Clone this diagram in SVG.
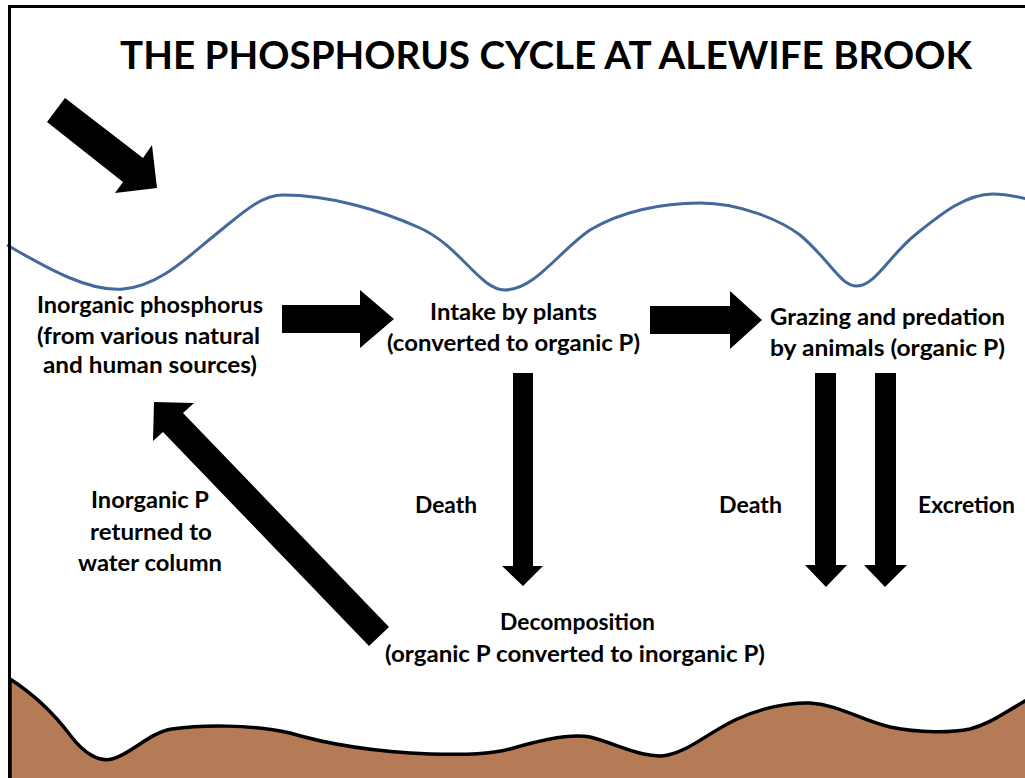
<svg xmlns="http://www.w3.org/2000/svg" width="1025" height="778" viewBox="0 0 1025 778">
  <style>
    .t { font-family: Lato, "Open Sans", "Liberation Sans", sans-serif; font-weight: bold; font-size: 22px; fill: #000; }
    .title { font-family: Lato, "Open Sans", "Liberation Sans", sans-serif; font-weight: bold; font-size: 39px; fill: #000; }
    .arrow { fill: #000; stroke: none; }
    .water { fill: none; stroke: #44699b; stroke-width: 3; }
    .ground { fill: #b57a56; stroke: #000; stroke-width: 3.5; stroke-linejoin: round; }
    .frame { fill: none; stroke: #000; stroke-width: 3; }
  </style>
  <rect x="0" y="0" width="1025" height="778" fill="#fff"/>

  <!-- water surface -->
  <path class="water" d="M7,245 C 50,270 90,292 123,289 C 160,286 190,255 215,235 C 240,215 260,195 283,195 C 330,195 380,210 420,228 C 460,246 480,290 505,290 C 535,290 560,250 590,230 C 620,212 660,203 700,203 C 740,203 780,220 800,235 C 830,260 840,286 857,286 C 875,286 890,255 915,235 C 940,215 965,194 993,194 C 1005,194 1015,196 1027,199"/>

  <!-- sediment -->
  <path class="ground" d="M10,679 C 35,695 55,715 70,735 C 85,755 100,762 112,759 C 130,755 150,732 172,729 C 200,725 250,724 290,733 C 330,745 380,752 430,754 C 470,755 490,754 510,749 C 540,740 570,733 590,737 C 615,743 645,760 668,755 C 690,750 705,735 735,720 C 760,708 790,702 810,703 C 840,705 860,720 890,727 C 920,733 950,733 970,729 C 990,724 1005,712 1027,700 L 1027,780 L 10,780 Z"/>

  <!-- frame -->
  <path class="frame" d="M9.5,780 L9.5,6.5 L1027,6.5"/>

  <text class="title" x="120" y="69" textLength="852" lengthAdjust="spacingAndGlyphs">THE PHOSPHORUS CYCLE AT ALEWIFE BROOK</text>

  <g id="connectors">
    <polygon class="arrow" points="65,98 143,158 152,145 157,188 115,193 123,182 47,122"/>
    <polygon class="arrow" points="282,305 360,305 360,290 394,319 360,348 360,333 282,333"/>
    <polygon class="arrow" points="650,306 730,306 730,291 762,320 730,349 730,334 650,334"/>
    <polygon class="arrow" points="513,373 533,373 533,566 543,566 523,586 502,566 513,566"/>
    <polygon class="arrow" points="815,373 836,373 836,565 847,565 826,587 805,565 815,565"/>
    <polygon class="arrow" points="875,373 896,373 896,565 907,565 885,587 864,565 875,565"/>
    <polygon class="arrow" points="389,627 183,413 194,403 154,402 153,441 163,432 369,646"/>
  </g>

  <g id="node-inorganic">
    <text class="t" x="37" y="313" textLength="226" lengthAdjust="spacingAndGlyphs">Inorganic phosphorus</text>
    <text class="t" x="37" y="344" textLength="223" lengthAdjust="spacingAndGlyphs">(from various natural</text>
    <text class="t" x="43" y="373" textLength="214" lengthAdjust="spacingAndGlyphs">and human sources)</text>
  </g>
  <g id="node-plants">
    <text class="t" x="430" y="320" textLength="167" lengthAdjust="spacingAndGlyphs">Intake by plants</text>
    <text class="t" x="387" y="351" textLength="253" lengthAdjust="spacingAndGlyphs">(converted to organic P)</text>
  </g>
  <g id="node-animals">
    <text class="t" x="770" y="325" textLength="235" lengthAdjust="spacingAndGlyphs">Grazing and predation</text>
    <text class="t" x="770" y="356" textLength="235" lengthAdjust="spacingAndGlyphs">by animals (organic P)</text>
  </g>
  <g id="node-decomposition">
    <text class="t" x="500" y="630" textLength="155" lengthAdjust="spacingAndGlyphs">Decomposition</text>
    <text class="t" x="385" y="662" textLength="380" lengthAdjust="spacingAndGlyphs">(organic P converted to inorganic P)</text>
  </g>
  <g id="label-returned">
    <text class="t" x="91" y="508" textLength="118" lengthAdjust="spacingAndGlyphs">Inorganic P</text>
    <text class="t" x="90" y="540" textLength="122" lengthAdjust="spacingAndGlyphs">returned to</text>
    <text class="t" x="78" y="571" textLength="144" lengthAdjust="spacingAndGlyphs">water column</text>
  </g>
  <g id="label-death-plants">
    <text class="t" x="415" y="513" textLength="62" lengthAdjust="spacingAndGlyphs">Death</text>
  </g>
  <g id="label-death-animals">
    <text class="t" x="719" y="513" textLength="63" lengthAdjust="spacingAndGlyphs">Death</text>
  </g>
  <g id="label-excretion">
    <text class="t" x="918" y="513" textLength="97" lengthAdjust="spacingAndGlyphs">Excretion</text>
  </g>
</svg>
